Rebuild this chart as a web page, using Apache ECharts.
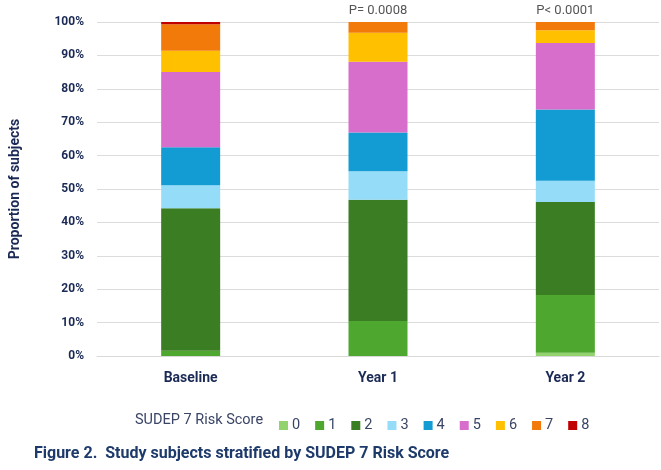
<!DOCTYPE html>
<html><head><meta charset="utf-8">
<script src="https://cdn.jsdelivr.net/npm/echarts@6/dist/echarts.min.js"></script>
<style>html,body{margin:0;padding:0;background:#fff}#c{width:661px;height:470px}</style>
</head><body><div id="c"></div>
<script>
const categories = ['Baseline', 'Year 1', 'Year 2'];
const pValues = ['', 'P= 0.0008', 'P< 0.0001'];
const scoreNames = ['0', '1', '2', '3', '4', '5', '6', '7', '8'];
const score0 = [0, 0, 1.0];
const score1 = [1.6, 10.5, 17.3];
const score2 = [42.6, 36.3, 27.8];
const score3 = [6.9, 8.5, 6.4];
const score4 = [11.4, 11.6, 21.3];
const score5 = [22.5, 21.2, 19.9];
const score6 = [6.4, 8.7, 3.8];
const score7 = [7.9, 3.2, 2.6];
const score8 = [0.7, 0, 0];
const yTicks = [0, 10, 20, 30, 40, 50, 60, 70, 80, 90, 100];

const seriesValues = [score0, score1, score2, score3, score4, score5, score6, score7, score8];
const colors = ['#92d36e', '#4ea72e', '#3a7d22', '#94dcf8', '#139bd4', '#d86ecc', '#ffc000', '#f27a0a', '#c00000'];
const navy = '#1b2a55';
const FONT = 'Roboto';

const chart = echarts.init(document.getElementById('c'), null, {renderer: 'canvas'});
chart.setOption({
  animation: false,
  color: colors,
  textStyle: {fontFamily: FONT},
  title: {
    text: 'Figure 2.  Study subjects stratified by SUDEP 7 Risk Score',
    left: 29, top: 441,
    textStyle: {fontFamily: FONT, fontWeight: 'bold', fontSize: 16, color: '#1d3a6b'}
  },
  graphic: [{
    type: 'text', left: 135, top: 413,
    style: {text: 'SUDEP 7 Risk Score', fontFamily: FONT, fontSize: 14.5, fill: '#3a4566'}
  }],
  legend: {
    left: 274, top: 413,
    itemWidth: 9, itemHeight: 9, itemGap: 15,
    icon: 'rect',
    textStyle: {fontFamily: FONT, fontSize: 14.5, color: '#3a4566', padding: [0, 0, 0, -1]},
    data: scoreNames
  },
  grid: {left: 89, right: 2, top: 22, bottom: 114},
  xAxis: [{
    type: 'category', data: categories,
    axisTick: {show: false},
    axisLine: {lineStyle: {color: '#d9d9d9'}},
    axisLabel: {fontFamily: FONT, fontWeight: 'bold', fontSize: 14, color: navy, margin: 15}
  }, {
    type: 'category', data: pValues, position: 'top',
    axisTick: {show: false}, axisLine: {show: false},
    axisLabel: {fontFamily: FONT, fontSize: 13, color: '#555', margin: 5}
  }],
  yAxis: {
    type: 'value', min: 0, max: 100, interval: 10,
    name: 'Proportion of subjects', nameLocation: 'middle', nameGap: 75, nameRotate: 90,
    nameTextStyle: {fontFamily: FONT, fontWeight: 'bold', fontSize: 14, color: navy},
    axisLabel: {fontFamily: FONT, fontWeight: 'bold', fontSize: 12, color: navy, margin: 13,
      formatter: v => yTicks.includes(v) ? v + '%' : ''},
    splitLine: {lineStyle: {color: '#dcdcdc', width: 1}}
  },
  series: seriesValues.map((vals, i) => ({
    name: scoreNames[i], type: 'bar', stack: 'total', barWidth: 59,
    data: vals
  }))
});
</script></body></html>
